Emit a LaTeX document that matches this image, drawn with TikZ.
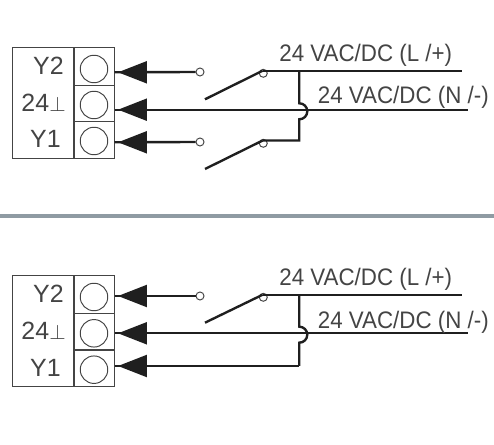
\documentclass[tikz,border=0pt]{standalone}
\usepackage{fontspec}
\setmainfont{Liberation Sans}
\newfontfamily\narrowfont[FakeStretch=.935]{Liberation Sans}
\usetikzlibrary{arrows.meta}
\definecolor{inkgray}{HTML}{444444}
\definecolor{rulegray}{HTML}{8F9BA3}
\newcommand{\gnd}{{\fontsize{12.5pt}{13pt}\selectfont$\perp$}}
\tikzset{
  wire/.style={line width=1.35pt, color=black!88},
  head/.style={wire, -{Triangle[length=16.5pt 0 0, width=12.5pt 0 0]}},
  outline/.style={line width=.8pt, color=inkgray},
  screw/.style={circle, draw=inkgray, line width=.55pt, fill=white, minimum size=27.5*.02cm, inner sep=0pt},
  pin/.style={circle, draw=inkgray, line width=.55pt, fill=white, minimum size=8*.02cm, inner sep=0pt},
  txt/.style={inner sep=0pt, text=inkgray, font=\narrowfont\fontsize{13.6pt}{15pt}\selectfont},
  tag/.style={inner sep=0pt, text=inkgray, font=\fontsize{14.2pt}{16pt}\selectfont},
}
\begin{document}
\begin{tikzpicture}[x=.02cm, y=-.02cm]
      \useasboundingbox (0,0) rectangle (494,445);
      % upper block
      \draw[outline] (12.5,47.5) rectangle (114.5,158.7);
      \draw[outline] (74,47.5) -- (74,158.7);
      \draw[outline] (74,85.7) -- (114.5,85.7);
      \draw[outline] (74,121.7) -- (114.5,121.7);
      \node[screw] (screwA) at (94,69) {};
      \node[screw] (screwB) at (94,105) {};
      \node[screw] (screwC) at (94,141) {};
      \node[tag, anchor=base east] (labelA) at (64,75) {Y2};
      \node[tag, anchor=base east] (labelB) at (66,111.7) {24\gnd};
      \node[tag, anchor=base east] (labelC) at (61,148) {Y1};
      \coordinate (termA) at (114.5,72.3);
      \coordinate (termB) at (114.5,109.7);
      \coordinate (termC) at (114.5,142.3);
      \coordinate (tipA) at (118,72.3);
      \coordinate (tipB) at (118,109.7);
      \coordinate (tipC) at (118,142.3);
      \coordinate (baseA) at (147,72.3);
      \coordinate (baseB) at (147,109.7);
      \coordinate (baseC) at (147,142.3);
      \node[pin] (pinA) at (200,72) {};
      \node[pin] (pinC) at (200,142) {};
      \node[pin] (pinD) at (263.3,73.3) {};
      \node[pin] (pinE) at (263.3,143.3) {};
      \coordinate (bladeD) at (205,99.3);
      \coordinate (bladeE) at (205,169);
      \coordinate (hingeD) at (262.7,70.7);
      \coordinate (hingeE) at (262.7,140.5);
      \coordinate (endL) at (462,70.7);
      \coordinate (endN) at (468,109.7);
      \coordinate (teeL) at (299.3,70.7);
      \coordinate (hopTop) at (299.3,103.3);
      \coordinate (hopEnd) at (299.3,119.3);
      \coordinate (teeE) at (299.3,140.5);
      \draw[wire] (termA) -- (pinA);
      \draw[wire] (termB) -- (endN);
      \draw[wire] (termC) -- (pinC);
      \draw[head] (baseA) -- (tipA);
      \draw[head] (baseB) -- (tipB);
      \draw[head] (baseC) -- (tipC);
      \draw[wire] (bladeD) -- (hingeD);
      \draw[wire] (bladeE) -- (hingeE);
      \draw[wire] (hingeD) -- (endL);
      \draw[wire] (teeL) -- (hopTop) arc[start angle=-90, end angle=90, radius=8] -- (hopEnd) -- (teeE) -- (hingeE);
      \node[txt, anchor=base west] (supplyL) at (279,61.7) {24 VAC/DC (L /+)};
      \node[txt, anchor=base west] (supplyN) at (317.5,104) {24 VAC/DC (N /-)};
      % separator
      \coordinate (ruleW) at (0,216);
      \coordinate (ruleE) at (494,216);
      \draw[line width=1.9pt, color=rulegray] (ruleW) -- (ruleE);
      % lower block
      \draw[outline] (12.5,275.7) rectangle (114.5,386.7);
      \draw[outline] (74,275.7) -- (74,386.7);
      \draw[outline] (74,313.3) -- (114.5,313.3);
      \draw[outline] (74,350) -- (114.5,350);
      \node[screw] (screwF) at (94,297) {};
      \node[screw] (screwG) at (94,333.3) {};
      \node[screw] (screwH) at (94,369.7) {};
      \node[tag, anchor=base east] (labelF) at (64,302.7) {Y2};
      \node[tag, anchor=base east] (labelG) at (66,340) {24\gnd};
      \node[tag, anchor=base east] (labelH) at (61,376.7) {Y1};
      \coordinate (termF) at (114.5,296);
      \coordinate (termG) at (114.5,333.3);
      \coordinate (termH) at (114.5,366);
      \coordinate (tipF) at (118,296);
      \coordinate (tipG) at (118,333.3);
      \coordinate (tipH) at (118,366);
      \coordinate (baseF) at (147,296);
      \coordinate (baseG) at (147,333.3);
      \coordinate (baseH) at (147,366);
      \node[pin] (pinF) at (200,296) {};
      \node[pin] (pinJ) at (263.3,297.3) {};
      \coordinate (bladeJ) at (205,322.7);
      \coordinate (hingeJ) at (262.7,294.7);
      \coordinate (endLb) at (462,294.7);
      \coordinate (endNb) at (468,333.3);
      \coordinate (teeLb) at (299.3,294.7);
      \coordinate (hopTopb) at (299.3,326.7);
      \coordinate (hopEndb) at (299.3,342.7);
      \coordinate (teeH) at (299.3,366);
      \draw[wire] (termF) -- (pinF);
      \draw[wire] (termG) -- (endNb);
      \draw[wire] (termH) -- (teeH);
      \draw[head] (baseF) -- (tipF);
      \draw[head] (baseG) -- (tipG);
      \draw[head] (baseH) -- (tipH);
      \draw[wire] (bladeJ) -- (hingeJ);
      \draw[wire] (hingeJ) -- (endLb);
      \draw[wire] (teeLb) -- (hopTopb) arc[start angle=-90, end angle=90, radius=8] -- (hopEndb) -- (teeH);
      \node[txt, anchor=base west] (supplyLb) at (279,286) {24 VAC/DC (L /+)};
      \node[txt, anchor=base west] (supplyNb) at (317.5,328.3) {24 VAC/DC (N /-)};
    \end{tikzpicture}
\end{document}
